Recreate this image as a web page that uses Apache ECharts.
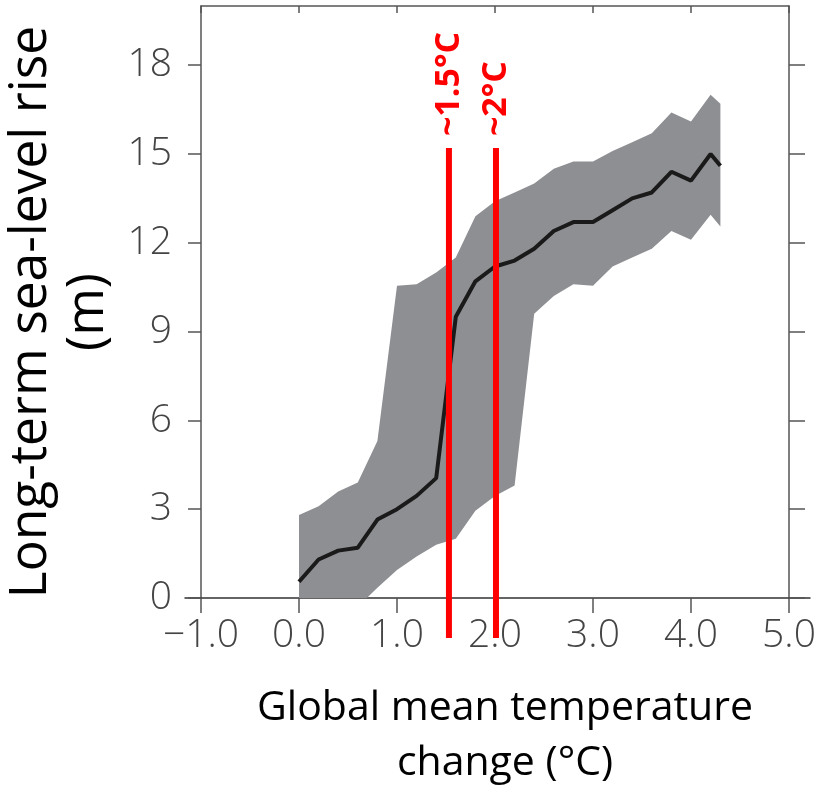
<!DOCTYPE html>
<html>
<head>
<meta charset="utf-8">
<script src="https://cdn.jsdelivr.net/npm/echarts@6/dist/echarts.min.js"></script>
<style>
  html, body { margin: 0; padding: 0; background: #fff; }
  #chart { width: 824px; height: 787px; }
</style>
</head>
<body>
<div id="chart"></div>
<script>
// values
const temps = [0.0, 0.2, 0.4, 0.6, 0.8, 1.0, 1.2, 1.4, 1.6, 1.8, 2.0, 2.2, 2.4, 2.6, 2.8, 3.0, 3.2, 3.4, 3.6, 3.8, 4.0, 4.2, 4.3]
const median = [0.55, 1.3, 1.6, 1.7, 2.65, 3.0, 3.45, 4.05, 9.5, 10.7, 11.2, 11.4, 11.8, 12.4, 12.7, 12.7, 13.1, 13.5, 13.7, 14.4, 14.1, 15.0, 14.6]
const upper = [2.8, 3.1, 3.6, 3.9, 5.3, 10.55, 10.6, 11.0, 11.5, 12.9, 13.4, 13.7, 14.0, 14.5, 14.75, 14.75, 15.1, 15.4, 15.7, 16.4, 16.1, 17.0, 16.7]
const lower = [-1.5, -1.1, -0.7, -0.3, 0.35, 0.95, 1.4, 1.8, 2.0, 2.95, 3.45, 3.8, 9.6, 10.2, 10.6, 10.55, 11.2, 11.5, 11.8, 12.4, 12.1, 12.95, 12.55]

const yTicks = [0, 3, 6, 9, 12, 15, 18]

// threshold lines (~1.5°C, ~2°C)
const thresholdX = [1.53, 2.01]
const thresholdLabels = ['~1.5°C', '~2°C']
const thresholdSpan = [-1.35, 15.2]

const axisColor = '#555'
const labelColor = '#444'
const tickFont = { color: labelColor, fontFamily: 'Open Sans', fontWeight: 300, fontSize: 39 }

const chart = echarts.init(document.getElementById('chart'))

const thresholdSeries = thresholdX.map((x, i) => ({
  type: 'line',
  xAxisIndex: 0,
  yAxisIndex: 0,
  clip: false,
  silent: true,
  z: 5,
  symbol: 'circle',
  symbolSize: 0,
  lineStyle: { color: '#ff0000', width: 6 },
  itemStyle: { color: '#ff0000' },
  data: [
    [x, thresholdSpan[0]],
    {
      value: [x, thresholdSpan[1]],
      label: {
        show: true,
        formatter: thresholdLabels[i],
        position: 'top',
        rotate: 90,
        align: 'left',
        verticalAlign: 'middle',
        distance: 12,
        color: '#ff0000',
        fontFamily: 'Open Sans',
        fontWeight: 'bold',
        fontSize: 34
      }
    }
  ]
}))

// grey range drawn as one polygon: upper edge, then lower edge backwards
const renderBand = (params, api) => {
  if (params.dataIndex !== 0) return
  const pts = []
  for (let i = 0; i < temps.length; i++) pts.push(api.coord([temps[i], upper[i]]))
  for (let i = temps.length - 1; i >= 0; i--) pts.push(api.coord([temps[i], lower[i]]))
  return {
    type: 'polygon',
    shape: { points: pts },
    style: { fill: '#8e8f93' }
  }
}

const option = {
  animation: false,
  grid: [
    { left: 201, right: 35, top: 6, bottom: 189, outerBoundsMode: 'none' },
    // wider grid only for the long bottom axis line
    { left: 185, right: 14, top: 6, bottom: 189, outerBoundsMode: 'none' }
  ],
  xAxis: [
    {
      type: 'value', gridIndex: 0, position: 'bottom',
      min: -1, max: 5, interval: 1,
      axisLine: { show: false },
      axisTick: { show: true, inside: false, length: 15, lineStyle: { color: axisColor, width: 1.5 } },
      splitLine: { show: false },
      axisLabel: Object.assign({
        margin: 18,
        formatter: v => v.toFixed(1).replace('-', '\u2212')
      }, tickFont)
    },
    {
      type: 'value', gridIndex: 0, position: 'top',
      min: -1, max: 5, interval: 1,
      axisLine: { show: true, onZero: false, lineStyle: { color: axisColor, width: 1.5 } },
      axisTick: { show: true, inside: true, length: 7, lineStyle: { color: axisColor, width: 1.5 } },
      splitLine: { show: false },
      axisLabel: { show: false }
    },
    {
      type: 'value', gridIndex: 1, position: 'bottom',
      min: 0, max: 1,
      axisLine: { show: true, onZero: false, lineStyle: { color: '#333', width: 1.5 } },
      axisTick: { show: false },
      splitLine: { show: false },
      axisLabel: { show: false }
    }
  ],
  yAxis: [
    {
      type: 'value', gridIndex: 0, position: 'left',
      min: 0, max: 20,
      name: 'Long-term sea-level rise\n(m)',
      nameLocation: 'middle',
      nameRotate: 90,
      nameGap: 70,
      nameTextStyle: { color: '#000', fontFamily: 'Open Sans', fontSize: 51.5, lineHeight: 57, padding: [0, 20, 0, 0] },
      axisLine: { show: true, onZero: false, lineStyle: { color: axisColor, width: 1.5 } },
      axisTick: { show: true, inside: false, length: 13, customValues: yTicks, lineStyle: { color: axisColor, width: 1.5 } },
      splitLine: { show: false },
      axisLabel: Object.assign({ margin: 29, customValues: yTicks }, tickFont)
    },
    {
      type: 'value', gridIndex: 0, position: 'right',
      min: 0, max: 20,
      axisLine: { show: true, onZero: false, lineStyle: { color: axisColor, width: 1.5 } },
      axisTick: { show: true, inside: false, length: 16, customValues: yTicks, lineStyle: { color: axisColor, width: 1.5 } },
      splitLine: { show: false },
      axisLabel: { show: false }
    },
    {
      type: 'value', gridIndex: 1, show: false, min: 0, max: 1
    }
  ],
  graphic: [
    {
      type: 'text',
      x: 505,
      y: 681,
      style: {
        text: 'Global mean temperature\nchange (°C)',
        fill: '#000',
        font: '41px "Open Sans"',
        lineHeight: 55,
        align: 'center',
        verticalAlign: 'top'
      }
    }
  ],
  series: [
    {
      type: 'custom', xAxisIndex: 0, yAxisIndex: 0,
      clip: true, silent: true, z: 1,
      renderItem: renderBand,
      encode: { x: 0, y: [1, 2] },
      data: temps.map((t, i) => [t, lower[i], upper[i]])
    },
    {
      type: 'line', xAxisIndex: 0, yAxisIndex: 0,
      symbol: 'none', z: 3,
      lineStyle: { color: '#1a1a1a', width: 4 },
      data: temps.map((t, i) => [t, median[i]])
    },
    ...thresholdSeries
  ]
}

chart.setOption(option)
</script>
</body>
</html>
